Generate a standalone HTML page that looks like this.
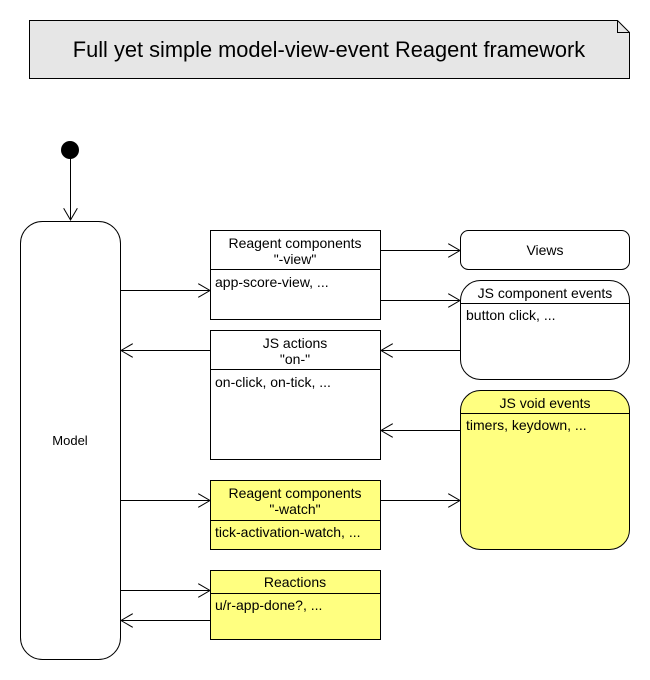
<!DOCTYPE html>
<html><head><style>body{margin:0;background:#fff}svg{display:block;font-family:"Liberation Sans",Arial,sans-serif}</style></head><body>
<svg width="650" height="680" xmlns="http://www.w3.org/2000/svg">
<defs><marker id="a" markerWidth="13" markerHeight="14" refX="12" refY="7" orient="auto" markerUnits="userSpaceOnUse"><path d="M0,0 L12,7 L0,14" fill="none" stroke="#000"/></marker></defs>
<g stroke="#000" fill="none">
<path d="M29.5,20.5 H617.5 L629.5,32.5 V78.5 H29.5 Z" fill="#e6e6e6"/>
<path d="M617.5,20.5 V32.5 H629.5"/>
</g>
<text x="329" y="57" font-size="21.8" text-anchor="middle">Full yet simple model-view-event Reagent framework</text>
<circle cx="70" cy="150" r="9" fill="#000"/>
<g stroke="#000" stroke-width="1" fill="none">
<line x1="70.5" y1="158" x2="70.5" y2="220" marker-end="url(#a)"/>
<rect x="20.5" y="221.5" width="100" height="438" rx="22" fill="#fff"/>
<rect x="210.5" y="230.5" width="170" height="89" fill="#fff"/><line x1="210" y1="269.5" x2="380" y2="269.5"/>
<rect x="460.5" y="230.5" width="169" height="39" rx="8" fill="#fff"/>
<rect x="460.5" y="280.5" width="169" height="99" rx="20" fill="#fff"/><line x1="460" y1="303.5" x2="630" y2="303.5"/>
<rect x="210.5" y="330.5" width="170" height="129" fill="#fff"/><line x1="210" y1="369.5" x2="380" y2="369.5"/>
<rect x="460.5" y="390.5" width="169" height="159" rx="20" fill="#ffff80"/><line x1="460" y1="413.5" x2="630" y2="413.5"/>
<rect x="210.5" y="480.5" width="170" height="69" fill="#ffff80"/><line x1="210" y1="520.5" x2="380" y2="520.5"/>
<rect x="210.5" y="570.5" width="170" height="69" fill="#ffff80"/><line x1="210" y1="593.5" x2="380" y2="593.5"/>
<line x1="120" y1="290.5" x2="210" y2="290.5" marker-end="url(#a)"/>
<line x1="380" y1="250.5" x2="460" y2="250.5" marker-end="url(#a)"/>
<line x1="380" y1="300.5" x2="460" y2="300.5" marker-end="url(#a)"/>
<line x1="460" y1="350.5" x2="381" y2="350.5" marker-end="url(#a)"/>
<line x1="210" y1="350.5" x2="121" y2="350.5" marker-end="url(#a)"/>
<line x1="460" y1="430.5" x2="381" y2="430.5" marker-end="url(#a)"/>
<line x1="120" y1="500.5" x2="210" y2="500.5" marker-end="url(#a)"/>
<line x1="380" y1="500.5" x2="460" y2="500.5" marker-end="url(#a)"/>
<line x1="120" y1="590.5" x2="210" y2="590.5" marker-end="url(#a)"/>
<line x1="210" y1="620.5" x2="121" y2="620.5" marker-end="url(#a)"/>
</g>
<g font-size="14" fill="#000">
<text x="295" y="248" text-anchor="middle">Reagent components</text>
<text x="295" y="264" text-anchor="middle">"-view"</text>
<text x="215" y="287">app-score-view, ...</text>
<text x="545" y="255" text-anchor="middle">Views</text>
<text x="545" y="298" text-anchor="middle">JS component events</text>
<text x="466" y="320">button click, ...</text>
<text x="295" y="348" text-anchor="middle">JS actions</text>
<text x="295" y="364" text-anchor="middle">"on-"</text>
<text x="215" y="387">on-click, on-tick, ...</text>
<text x="545" y="408" text-anchor="middle">JS void events</text>
<text x="466" y="430">timers, keydown, ...</text>
<text x="295" y="498" text-anchor="middle">Reagent components</text>
<text x="295" y="514" text-anchor="middle">"-watch"</text>
<text x="215" y="537">tick-activation-watch, ...</text>
<text x="295" y="587" text-anchor="middle">Reactions</text>
<text x="215" y="610">u/r-app-done?, ...</text>
<text x="70" y="445" text-anchor="middle" font-size="13">Model</text>
</g>
</svg>
</body></html>
